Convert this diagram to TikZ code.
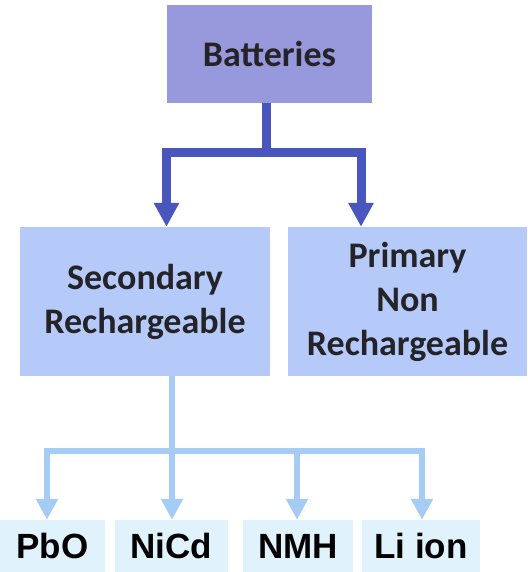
\documentclass[tikz,border=0pt]{standalone}
\usepackage{fontspec}
\setmainfont{Carlito}
\newfontfamily\arialfont{Liberation Sans}
\usetikzlibrary{arrows.meta}

\definecolor{topfill}{RGB}{152,152,220}
\definecolor{midfill}{RGB}{182,202,250}
\definecolor{lowfill}{RGB}{224,242,252}
\definecolor{darkline}{RGB}{72,86,190}
\definecolor{lightline}{RGB}{165,204,245}
\definecolor{textgray}{RGB}{35,35,40}

\begin{document}
\begin{tikzpicture}[x=1pt, y=-1pt,
	every node/.style={text=textgray, inner sep=0pt, align=center},
	topbox/.style={fill=topfill, minimum width=205pt, minimum height=98pt, font=\fontsize{36}{42}\selectfont\bfseries},
	midbox/.style={fill=midfill, minimum height=149pt, font=\fontsize{36}{44}\selectfont\bfseries},
	lowbox/.style={fill=lowfill, minimum height=52pt, font=\arialfont\fontsize{35}{40}\selectfont\bfseries, text=black},
	darkarrow/.style={draw=darkline, line width=9pt, -{Triangle[width=24pt,length=24pt]}},
	lightarrow/.style={draw=lightline, line width=6pt, -{Triangle[width=21pt,length=21pt]}}]
	\useasboundingbox (0,0) rectangle (527,572);
	% boxes
	\node[topbox] (bat) at (269.5,54) {Batteries};
	\node[midbox, minimum width=250pt] (sec) at (145,301.5) {Secondary\\Rechargeable};
	\node[midbox, minimum width=239pt] (pri) at (407.5,301.5) {Primary\\Non\\Rechargeable};
	\node[lowbox, minimum width=105pt] (pbo) at (52.5,546) {PbO};
	\node[lowbox, minimum width=113pt] (nicd) at (171.5,546) {NiCd};
	\node[lowbox, minimum width=110pt] (nmh) at (298,546) {NMH};
	\node[lowbox, minimum width=118pt] (liion) at (421,546) {Li ion};
	% upper connectors
	\coordinate (topjoin) at (266,153);
	\draw[darkline, line width=9pt] (bat.south -| topjoin) -- (topjoin);
	\draw[darkarrow] (topjoin) -| (166.5,0 |- sec.north);
	\draw[darkarrow] (topjoin) -| (361,0 |- pri.north);
	% lower connectors
	\coordinate (lowjoin) at (172,451);
	\draw[lightline, line width=6pt] (sec.south -| lowjoin) -- (lowjoin);
	\draw[lightarrow] (lowjoin) -| (47,0 |- pbo.north);
	\draw[lightarrow] (lowjoin) -- (nicd.north -| lowjoin);
	\draw[lightarrow] (lowjoin) -| (297,0 |- nmh.north);
	\draw[lightarrow] (lowjoin) -| (422,0 |- liion.north);
\end{tikzpicture}
\end{document}
